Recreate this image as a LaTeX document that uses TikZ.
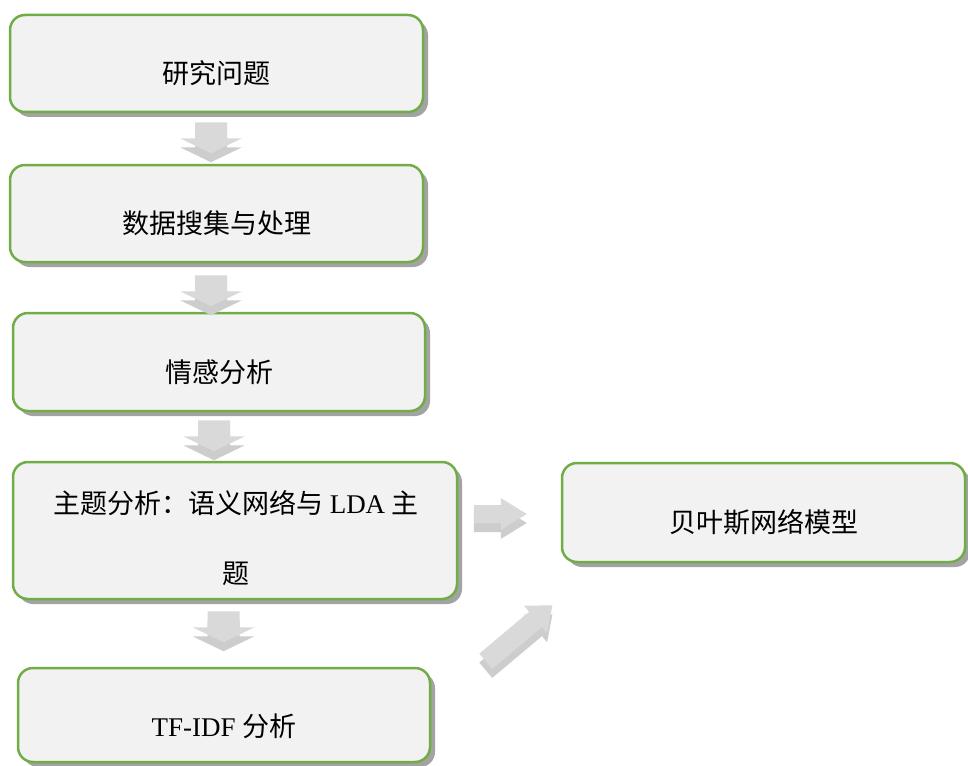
\documentclass[tikz,border=0pt]{standalone}
\usepackage{fontspec}
\setmainfont{Liberation Serif}
\newfontfamily\cjk{Noto Sans CJK SC}
\usetikzlibrary{calc,shadows}
\definecolor{boxgreen}{HTML}{70AD47}
\definecolor{boxfill}{HTML}{F2F2F2}
\definecolor{boxshadow}{HTML}{A3A3A3}
\definecolor{arrfillc}{HTML}{D9D9D9}
\definecolor{arrshadowc}{HTML}{CDCDCD}
\tikzset{
  stepbox/.style={draw=boxgreen, line width=2.5pt, fill=boxfill, rounded corners=15pt,
    drop shadow={shadow xshift=5pt, shadow yshift=-5pt, fill=boxshadow, opacity=1}},
  boxtext/.style={font=\fontsize{27pt}{70pt}\selectfont, align=center, inner sep=0pt, text=black},
  arrfill/.style={fill=arrfillc},
  arrshadow/.style={fill=arrshadowc},
}
\newcommand\mkblockarrow[6]{%
  \begin{scope}[shift={(#1)}, yshift=-9pt, rotate=#2]
    \fill[arrshadow] (0,-#4) -- ({#3-#6},-#4) -- ({#3-#6},-#5) -- (#3,0) -- ({#3-#6},#5) -- ({#3-#6},#4) -- (0,#4) -- cycle;
  \end{scope}
  \begin{scope}[shift={(#1)}, rotate=#2]
    \fill[arrfill] (0,-#4) -- ({#3-#6},-#4) -- ({#3-#6},-#5) -- (#3,0) -- ({#3-#6},#5) -- ({#3-#6},#4) -- (0,#4) -- cycle;
  \end{scope}}
\begin{document}
\begin{tikzpicture}[x=1pt, y=-1pt]
\useasboundingbox (0,0) rectangle (968,765);
% boxes
\node[stepbox, minimum width=413pt, minimum height=97pt] (b1) at (216.5,63.5) {};
\node[stepbox, minimum width=413pt, minimum height=97pt] (b2) at (216.5,213.5) {};
\node[stepbox, minimum width=412pt, minimum height=98pt] (b3) at (219,362) {};
\node[stepbox, minimum width=444pt, minimum height=137pt] (b4) at (235,530.5) {};
\node[stepbox, minimum width=403pt, minimum height=99pt] (b5) at (763.5,512.5) {};
\node[stepbox, minimum width=412pt, minimum height=94pt] (b6) at (224,715) {};
% texts
\node[boxtext] (t1) at ($(b1.center)+(0,10)$) {\cjk 研究问题};
\node[boxtext] (t2) at ($(b2.center)+(0,10)$) {\cjk 数据搜集与处理};
\node[boxtext] (t3) at ($(b3.center)+(0,10)$) {\cjk 情感分析};
\node[boxtext] (t4) at ($(b4.center)+(1,8)$) {{\cjk 主题分析：语义网络与} LDA {\cjk 主}\\{\cjk 题}};
\node[boxtext] (t5) at ($(b5.center)+(0,10)$) {\cjk 贝叶斯网络模型};
\node[boxtext] (t6) at ($(b6.center)+(0,11)$) {TF-IDF {\cjk 分析}};
% block arrows
\mkblockarrow{$(b1.south)+(-5.5,9)$}{-90}{31}{16}{31}{15}
\mkblockarrow{$(b2.south)+(-5.5,12)$}{-90}{31}{16}{31}{15}
\mkblockarrow{$(b3.south)+(-5,8)$}{-90}{31}{16}{31}{15}
\mkblockarrow{$(b4.south)+(-11.5,11)$}{-90}{31}{16}{31}{15}
\mkblockarrow{$(b5.west)+(-87,1.5)$}{0}{53}{9}{16}{26}
\mkblockarrow{$(b5.south west)+(-75,98)$}{40}{87}{10}{18}{22}
\end{tikzpicture}
\end{document}
